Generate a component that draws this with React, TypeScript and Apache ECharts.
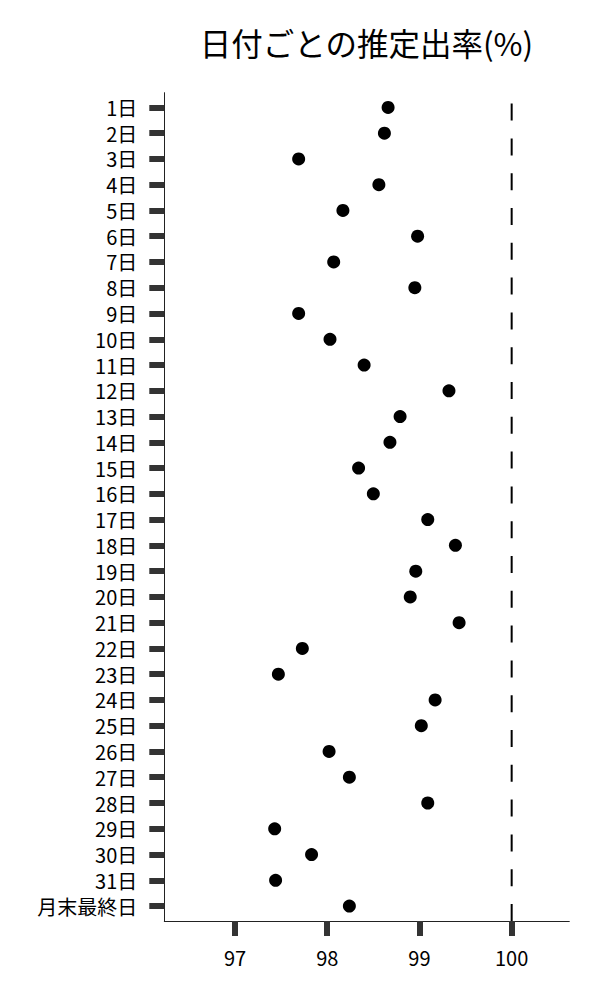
import React, { useEffect, useRef } from "react";
import * as echarts from "echarts";

const titleText = "日付ごとの推定出率(%)";
const days = [
  "1日", "2日", "3日", "4日", "5日", "6日", "7日", "8日", "9日", "10日",
  "11日", "12日", "13日", "14日", "15日", "16日", "17日", "18日", "19日", "20日",
  "21日", "22日", "23日", "24日", "25日", "26日", "27日", "28日", "29日", "30日",
  "31日", "月末最終日",
];
const rates = [
  98.66, 98.62, 97.69, 98.56, 98.17, 98.98, 98.07, 98.95, 97.69, 98.03,
  98.40, 99.32, 98.79, 98.68, 98.34, 98.50, 99.09, 99.39, 98.96, 98.90,
  99.43, 97.73, 97.47, 99.17, 99.02, 98.02, 98.24, 99.09, 97.43, 97.83,
  97.44, 98.24,
];
const xTicks = [97, 98, 99, 100];
const referenceValue = 100;
const xMin = 96.233;
const xMax = 100.625;
const yPad = 0.57;

const FONT = "Noto Sans CJK JP";

export default function App() {
  const ref = useRef<HTMLDivElement>(null);
  useEffect(() => {
    if (!ref.current) return;
    const chart = echarts.init(ref.current, null, { renderer: "svg" });
    const idx = days.map((_, i) => i);
    const yMin = -yPad;
    const yMax = days.length - 1 + yPad + 0.01;
    chart.setOption({
      animation: false,
      backgroundColor: "#ffffff",
      title: {
        text: titleText,
        left: 361.5,
        top: 20,
        textAlign: "center",
        textStyle: {
          fontFamily: FONT,
          fontSize: 31.5,
          fontWeight: "normal",
          color: "#000",
          lineHeight: 34,
        },
      },
      grid: { left: 164.3, right: 30.7, top: 92.7, bottom: 79, containLabel: false },
      xAxis: {
        type: "value",
        min: xMin,
        max: xMax,
        axisLine: { show: true, onZero: false, lineStyle: { color: "#222", width: 1 } },
        axisTick: {
          show: true,
          customValues: xTicks,
          length: 15,
          lineStyle: { color: "#333", width: 6 },
        },
        axisLabel: {
          customValues: xTicks,
          margin: 25,
          fontFamily: FONT,
          fontSize: 20,
          lineHeight: 22,
          color: "#000",
          formatter: (v: number) => String(v),
        },
        splitLine: { show: false },
      },
      yAxis: {
        type: "value",
        inverse: true,
        min: yMin,
        max: yMax,
        axisLine: { show: true, onZero: false, lineStyle: { color: "#222", width: 1 } },
        axisTick: {
          show: true,
          customValues: idx,
          length: 15,
          lineStyle: { color: "#333", width: 6 },
        },
        axisLabel: {
          customValues: idx,
          margin: 27,
          fontFamily: FONT,
          fontSize: 20,
          lineHeight: 22,
          color: "#000",
          formatter: (v: number) => days[Math.round(v)] ?? "",
        },
        splitLine: { show: false },
      },
      series: [
        {
          type: "line",
          data: [
            [referenceValue, yMax],
            [referenceValue, yMin],
          ],
          symbol: "none",
          silent: true,
          lineStyle: { color: "#000", width: 2, type: [17, 17.8] },
          z: 1,
        },
        {
          type: "scatter",
          data: rates.map((r, i) => [r, i]),
          symbol: "circle",
          symbolSize: 13,
          itemStyle: { color: "#000", opacity: 1 },
          z: 3,
        },
      ],
    });
    return () => chart.dispose();
  }, []);
  return (
    <div
      ref={ref}
      style={{ position: "absolute", left: 0, top: 0, width: 600, height: 1000 }}
    />
  );
}
